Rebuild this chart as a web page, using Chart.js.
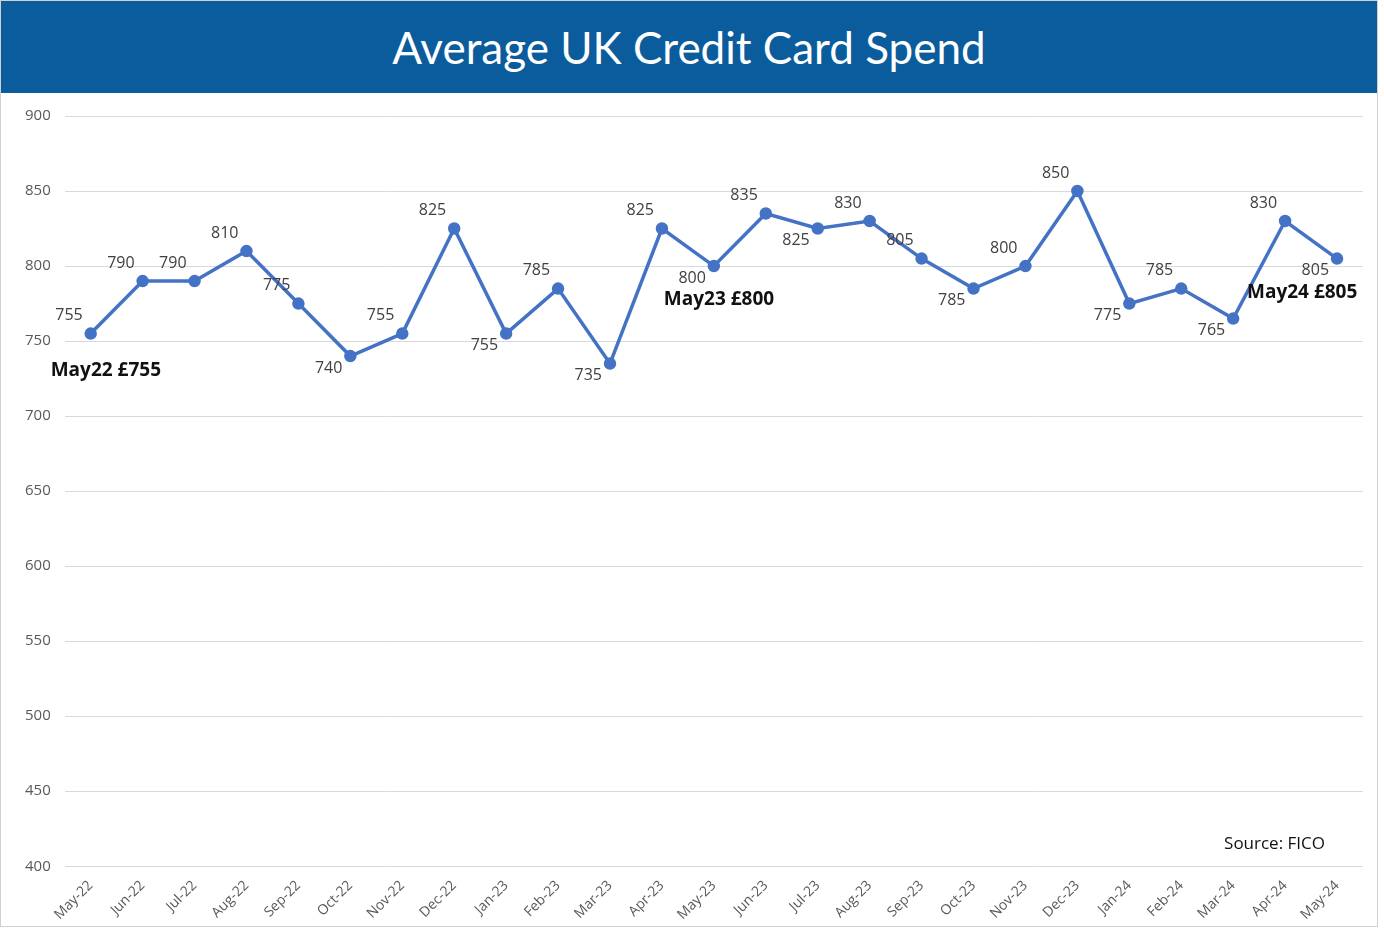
<!DOCTYPE html>
<html><head><meta charset="utf-8">
<script src="https://cdn.jsdelivr.net/npm/chart.js@4"></script>
<style>
body{margin:0;background:#fff;font-family:Lato,"Open Sans",sans-serif}
#wrap{position:absolute;left:0;top:0;width:1378px;height:927px;border:1px solid #d0d0d0;box-sizing:border-box}
#title{height:92px;background:#0a5c9c;color:#fff;font-size:44px;text-align:center;line-height:92px;font-family:Lato,sans-serif}
#cv{position:absolute;left:0;top:92px;width:1376px;height:833px}
</style></head><body>
<div id="wrap"><div id="title">Average UK Credit Card Spend</div><div id="cv"><canvas id="c"></canvas></div></div>
<script>
const categories=["May-22","Jun-22","Jul-22","Aug-22","Sep-22","Oct-22","Nov-22","Dec-22","Jan-23","Feb-23","Mar-23","Apr-23","May-23","Jun-23","Jul-23","Aug-23","Sep-23","Oct-23","Nov-23","Dec-23","Jan-24","Feb-24","Mar-24","Apr-24","May-24"];
const spend=[755,790,790,810,775,740,755,825,755,785,735,825,800,835,825,830,805,785,800,850,775,785,765,830,805];
const yTicks=[400,450,500,550,600,650,700,750,800,850,900];
const callouts={0:"May22 £755",12:"May23 £800",24:"May24 £805"};
const labelPlugin={id:'lbl',afterDatasetsDraw(ch){
  const ctx=ch.ctx,meta=ch.getDatasetMeta(0);
  ctx.save();ctx.font='16px "Open Sans",sans-serif';ctx.fillStyle='#404040';ctx.textAlign='right';
  meta.data.forEach((p,i)=>{
    const v=spend[i],pr=spend[i-1]??v,nx=spend[i+1]??v;
    const below=v<pr&&v<=nx;
    ctx.textBaseline=below?'top':'bottom';
    ctx.fillText(v,p.x-8,below?p.y+4:p.y-10);
  });
  ctx.font='bold 19px "Open Sans",sans-serif';ctx.fillStyle='#111';ctx.textAlign='left';ctx.textBaseline='middle';
  for(const k in callouts){const p=meta.data[k];
    const x=k==0?p.x-40:(k==24?p.x-90:p.x-50);
    const y=k==0?p.y+37:p.y+34;
    ctx.fillText(callouts[k],x,y);}
  ctx.font='17px "Open Sans",sans-serif';ctx.textAlign='right';
  ctx.fillText('Source: FICO',ch.chartArea.right-38,ch.chartArea.bottom-22);
  ctx.restore();}};
new Chart(document.getElementById('c'),{type:'line',
 data:{labels:categories,datasets:[{data:spend,borderColor:'#4472c4',backgroundColor:'#4472c4',borderWidth:3.5,pointRadius:4.5,tension:0}]},
 options:{responsive:true,maintainAspectRatio:false,animation:false,
  layout:{padding:{top:14,right:14,left:10,bottom:0}},
  plugins:{legend:{display:false},tooltip:{enabled:false}},
  scales:{y:{min:400,max:900,afterBuildTicks(a){a.ticks=yTicks.map(v=>({value:v}));},
     grid:{color:'#d9d9d9',drawTicks:false},border:{display:false},
     ticks:{color:'#595959',padding:14,font:{size:15,family:'"Open Sans",sans-serif'}}},
   x:{offset:true,grid:{display:false},border:{display:false},
     ticks:{color:'#595959',maxRotation:45,minRotation:45,font:{size:14,family:'"Open Sans",sans-serif'}}}}},
 plugins:[labelPlugin]});
</script></body></html>
